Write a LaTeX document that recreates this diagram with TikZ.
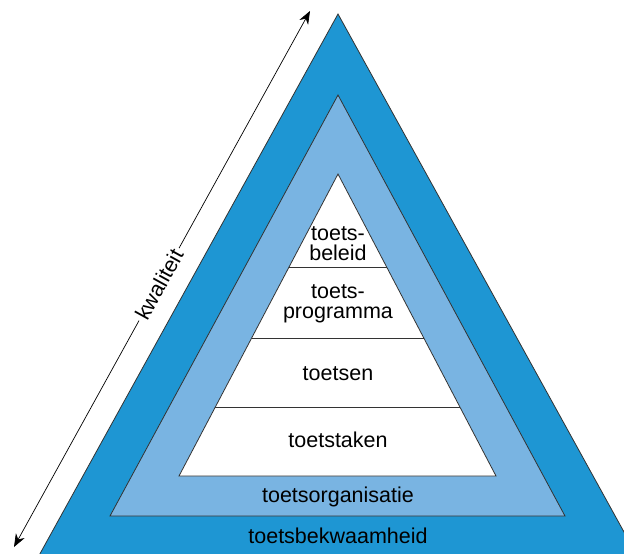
\documentclass[tikz,border=0pt]{standalone}
\usepackage{fontspec}
\setmainfont{Liberation Sans}
\usepackage{tikz}
\usetikzlibrary{calc, arrows.meta}

\definecolor{darkband}{HTML}{1E96D3}
\definecolor{lightband}{HTML}{79B4E2}

\tikzset{
    band/.style={draw=black!80, line width=0.8pt, line join=miter},
    tierlabel/.style={font=\fontsize{21.5}{20}\selectfont, inner sep=0pt, align=center},
}

\begin{document}
\begin{tikzpicture}[x=1pt, y=-1pt, >={Stealth[length=13pt, width=10pt]}]

    % =================================================================
    % 1. FRAME
    % =================================================================
    \useasboundingbox (0,0) rectangle (624,554);
    \clip (0,0) rectangle (624,554);

    % =================================================================
    % 2. CORNER POINTS OF THE THREE TRIANGLES
    % =================================================================
    \coordinate (OutTop) at (338, 14);
    \coordinate (OutLeft) at (31, 570);
    \coordinate (OutRight) at (645, 570);

    \coordinate (MidTop) at (338, 95);
    \coordinate (MidLeft) at (110, 516);
    \coordinate (MidRight) at (565, 516);

    \coordinate (InTop) at (338, 174);
    \coordinate (InLeft) at (179, 476);
    \coordinate (InRight) at (496, 476);

    % Ends of the quality arrow
    \coordinate (QualLow) at (14, 547);
    \coordinate (QualHigh) at (310, 11);

    % =================================================================
    % 3. THE TRIANGLES
    % =================================================================
    \filldraw[band, fill=darkband] (OutTop) -- (OutLeft) -- (OutRight) -- cycle;
    \filldraw[band, fill=lightband] (MidTop) -- (MidLeft) -- (MidRight) -- cycle;
    \filldraw[band, fill=white] (InTop) -- (InLeft) -- (InRight) -- cycle;

    % Dividers in the white pyramid
    \foreach \t in {0.308, 0.543, 0.772}
        \draw[band] ($(InTop)!\t!(InLeft)$) -- ($(InTop)!\t!(InRight)$);

    % =================================================================
    % 4. LABELS
    % =================================================================
    \node[tierlabel] (beleid) at (338, 244) {toets-\\beleid};
    \node[tierlabel] (programma) at (338, 304) {toets-\\programma};
    \node[tierlabel, anchor=base] (toetsen) at (338, 380) {toetsen};
    \node[tierlabel, anchor=base] (taken) at (338, 447) {toetstaken};
    \node[tierlabel, anchor=base] (organisatie) at (338, 502) {toetsorganisatie};
    \node[tierlabel, anchor=base] (bekwaamheid) at (338, 543) {toetsbekwaamheid};

    % =================================================================
    % 5. QUALITY ARROW
    % =================================================================
    \draw[<->, line width=0.7pt] (QualLow) -- node[tierlabel, sloped, fill=white, inner sep=3pt, pos=0.49] (kwaliteit) {kwaliteit} (QualHigh);

\end{tikzpicture}
\end{document}
